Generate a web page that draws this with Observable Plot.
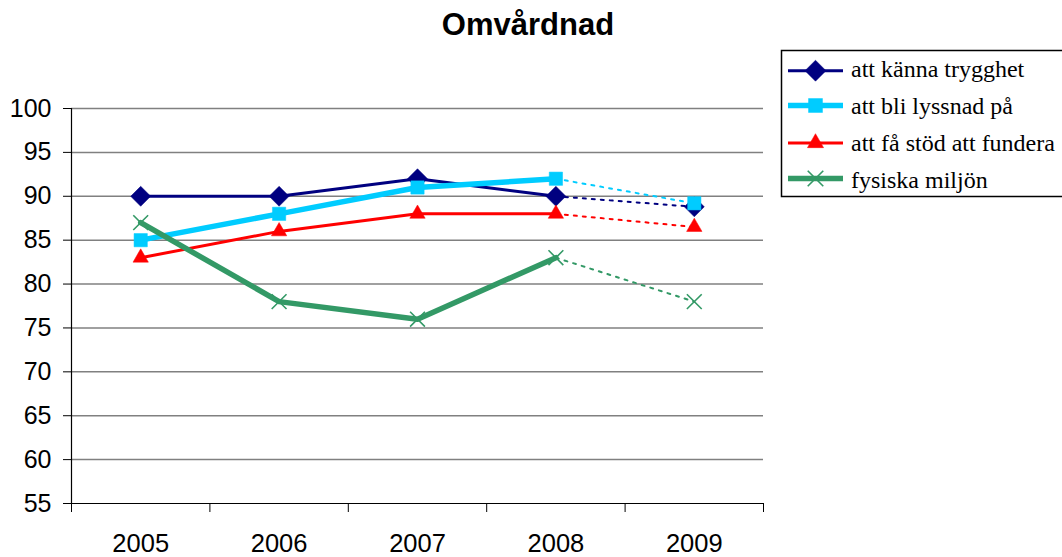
<!DOCTYPE html>
<html><head><meta charset="utf-8">
<script src="https://cdn.jsdelivr.net/npm/d3@7"></script>
<script src="https://cdn.jsdelivr.net/npm/@observablehq/plot@0.6"></script>
<style>
body{margin:0;background:#fff;font-family:"Liberation Sans",Arial,sans-serif}
#wrap{position:relative;width:1062px;height:557px;overflow:hidden;background:#fff}
#title{position:absolute;left:0;top:7px;width:1056px;text-align:center;font-weight:bold;font-size:31px;color:#000}
#chart{position:absolute;left:0;top:55px}
#legend{position:absolute;left:780px;top:49px}
</style></head>
<body>
<div id="wrap">
  <div id="title">Omvårdnad</div>
  <div id="chart"></div>
  <div id="legend"></div>
</div>
<script>
const years = [2005, 2006, 2007, 2008, 2009];
const seriesNames = ["att känna trygghet", "att bli lyssnad på", "att få stöd att fundera", "fysiska miljön"];
const kanna   = [90, 90, 92, 90, 88.8];
const lyssnad = [85, 88, 91, 92, 89.2];
const stod    = [83, 86, 88, 88, 86.5];
const fysiska = [87, 78, 76, 83, 78];
const yTicks = [55, 60, 65, 70, 75, 80, 85, 90, 95, 100];
const xBounds = [2004.5, 2005.5, 2006.5, 2007.5, 2008.5, 2009.5];

const values = [kanna, lyssnad, stod, fysiska];
const styles = [
  {color: "#000080", width: 3, symbol: "diamond2", r: 9, fill: true, dotW: 2},
  {color: "#00CCFF", width: 5.5, symbol: "square", r: 7.5, fill: true, dotW: 2},
  {color: "#FF0000", width: 3, symbol: "triangle", r: 5.7, fill: true, dotW: 2},
  {color: "#339966", width: 5.5, symbol: "times", r: 6.8, fill: false, dotW: 2}
];

const marks = [
  Plot.gridY(yTicks.filter(d => d > 55), {stroke: "#808080", strokeOpacity: 1, strokeWidth: 1.5}),
  Plot.ruleY([55], {stroke: "#000", strokeWidth: 1.2}),
  Plot.ruleX([2004.5], {stroke: "#000", strokeWidth: 1.2}),
  Plot.axisY({ticks: yTicks, tickSize: 8, tickPadding: 12, fontSize: 25, tickFormat: d => String(d), label: null}),
  Plot.axisX({ticks: xBounds, tickSize: 9, tickFormat: () => "", label: null}),
  Plot.axisX({ticks: years, tickSize: 0, tickPadding: 30, fontSize: 25.5, tickFormat: d => String(d), label: null})
];

values.forEach((vals, i) => {
  const s = styles[i];
  const rows = years.map((y, j) => ({year: y, value: vals[j]}));
  const solid = rows.filter(d => d.year <= 2008);
  const dotted = rows.filter(d => d.year >= 2008);
  marks.push(Plot.line(dotted, {x: "year", y: "value", stroke: s.color, strokeWidth: s.dotW, strokeDasharray: "3,6"}));
  marks.push(Plot.line(solid, {x: "year", y: "value", stroke: s.color, strokeWidth: s.width}));
  marks.push(Plot.dot(rows, {x: "year", y: "value", symbol: () => s.symbol, r: s.r,
    fill: s.fill ? s.color : "none", stroke: s.color, strokeWidth: s.fill ? 0.5 : 1.6}));
});

const chart = Plot.plot({
  width: 1062,
  height: 502,
  marginLeft: 71,
  marginRight: 299,
  marginTop: 53,
  marginBottom: 54,
  style: {fontFamily: "'Liberation Sans', Arial, sans-serif", color: "#000", background: "#fff"},
  x: {domain: [2004.5, 2009.5], axis: null},
  y: {domain: [55, 100], axis: null},
  symbol: {type: "identity"},
  marks
});
document.getElementById("chart").appendChild(chart);

// legend
const symMap = {diamond2: d3.symbolDiamond2, square: d3.symbolSquare, triangle: d3.symbolTriangle, times: d3.symbolTimes};
const lsvg = d3.select("#legend").append("svg").attr("width", 284).attr("height", 150);
lsvg.append("rect").attr("x", 1.5).attr("y", 1.5).attr("width", 300).attr("height", 146)
  .attr("fill", "#fff").attr("stroke", "#000").attr("stroke-width", 1.5);
const markerY = [21.7, 56.5, 94, 129.5];
const baseY = [27.7, 64.5, 101.7, 138.5];
seriesNames.forEach((name, i) => {
  const s = styles[i];
  lsvg.append("line").attr("x1", 8).attr("x2", 63).attr("y1", markerY[i]).attr("y2", markerY[i])
    .attr("stroke", s.color).attr("stroke-width", s.width);
  lsvg.append("path").attr("d", d3.symbol(symMap[s.symbol], Math.PI * s.r * s.r * 1.1)())
    .attr("transform", `translate(35.5,${markerY[i]})`)
    .attr("fill", s.fill ? s.color : "none").attr("stroke", s.color)
    .attr("stroke-width", s.fill ? 0.5 : 1.6);
  lsvg.append("text").attr("x", 71).attr("y", baseY[i]).text(name)
    .attr("font-family", "'Liberation Serif', 'Times New Roman', serif").attr("font-size", 24).attr("fill", "#000");
});
</script>
</body></html>
